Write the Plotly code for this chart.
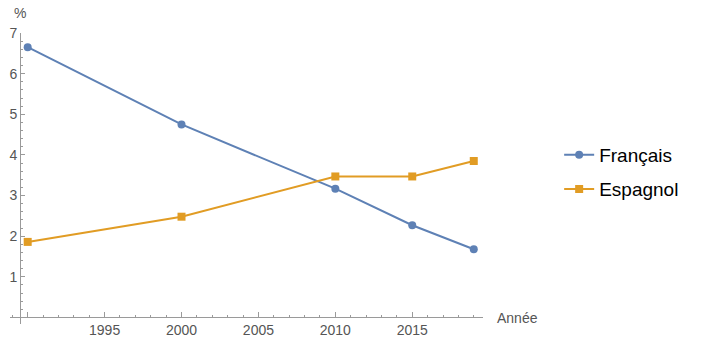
import plotly.graph_objects as go

years = [1990, 2000, 2010, 2015, 2019]
francais = [6.65, 4.75, 3.17, 2.27, 1.68]
espagnol = [1.86, 2.48, 3.47, 3.47, 3.85]

x_tickvals = [1990, 1995, 2000, 2005, 2010, 2015]
x_ticktext = ["", "1995", "2000", "2005", "2010", "2015"]
y_tickvals = [1, 2, 3, 4, 5, 6, 7]
y_ticktext = ["1", "2", "3", "4", "5", "6", "7"]

BLUE = "#5E81B5"
ORANGE = "#E19C24"
AXIS = "#9a9a9a"
LABEL = "#555555"
FONT = "Liberation Sans, Arial, sans-serif"

xmin, xmax = 1988.85, 2019.6
ymin, ymax = -0.16, 7.0
y_axis_x = 1989.5

fig = go.Figure()
fig.add_trace(go.Scatter(x=years, y=francais, name="Français", mode="lines+markers",
                         line=dict(color=BLUE, width=2),
                         marker=dict(symbol="circle", size=8, color=BLUE),
                         legend="legend"))
fig.add_trace(go.Scatter(x=years, y=espagnol, name="Espagnol", mode="lines+markers",
                         line=dict(color=ORANGE, width=2),
                         marker=dict(symbol="square", size=8, color=ORANGE),
                         legend="legend2"))

leg_common = dict(xanchor="left", yanchor="top",
                  font=dict(size=19, color="black", family=FONT),
                  bgcolor="rgba(0,0,0,0)", itemwidth=30)

fig.update_layout(
    width=710, height=352,
    margin=dict(l=10, r=227, t=33, b=28),
    paper_bgcolor="white", plot_bgcolor="white",
    font=dict(family=FONT, size=14, color=LABEL),
    xaxis=dict(range=[xmin, xmax], anchor="free",
               position=(0 - ymin) / (ymax - ymin),
               showgrid=False, zeroline=False, showline=True, linecolor=AXIS, linewidth=1,
               tickmode="array", tickvals=x_tickvals, ticktext=x_ticktext,
               ticks="inside", ticklen=5, tickcolor=AXIS, tickwidth=1,
               tickfont=dict(size=14, color=LABEL),
               minor=dict(dtick=1, tick0=1990, ticks="inside", ticklen=2.5, tickcolor=AXIS)),
    yaxis=dict(range=[ymin, ymax], anchor="free",
               position=(y_axis_x - xmin) / (xmax - xmin),
               showgrid=False, zeroline=False, showline=True, linecolor=AXIS, linewidth=1,
               tickmode="array", tickvals=y_tickvals, ticktext=y_ticktext,
               ticks="inside", ticklen=4, tickcolor=AXIS, tickwidth=1,
               tickfont=dict(size=14, color=LABEL),
               minor=dict(dtick=0.2, tick0=0, ticks="inside", ticklen=2.5, tickcolor=AXIS)),
    legend=dict(x=1.161, y=0.646, **leg_common),
    legend2=dict(x=1.161, y=0.529, **leg_common),
    showlegend=True,
)

fig.add_annotation(text="Année", xref="paper", yref="y", x=(495 - 10) / 473, y=0,
                   xanchor="left", yanchor="middle", showarrow=False,
                   font=dict(size=14, color=LABEL, family=FONT))
fig.add_annotation(text="%", xref="x", yref="paper", x=y_axis_x, y=(324 - 13) / 291,
                   xanchor="center", yanchor="middle", showarrow=False,
                   font=dict(size=14, color=LABEL, family=FONT))

fig.write_html("out.html")
